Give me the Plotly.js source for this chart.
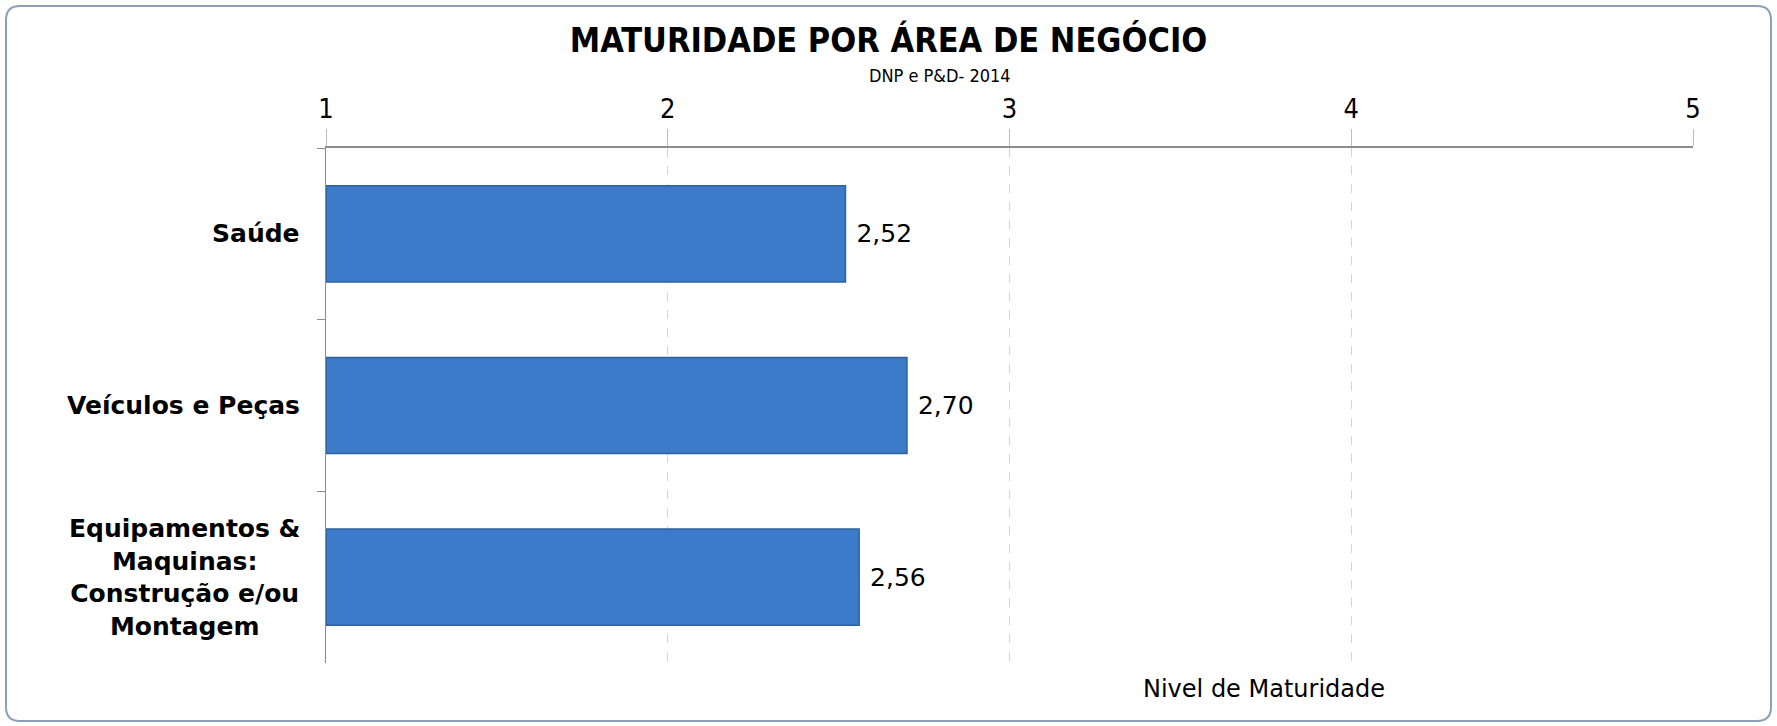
<!DOCTYPE html>
<html>
<head>
<meta charset="utf-8">
<script src="https://cdn.plot.ly/plotly-3.0.1.min.js"></script>
<style>html,body{margin:0;padding:0;background:#fff;}#chart{width:1777px;height:726px;}</style>
</head>
<body>
<div id="chart"></div>
<script>
const categories = ["Saúde", "Veículos e Peças", "Equipamentos &<br>Maquinas:<br>Construção e/ou<br>Montagem"];
const values = [2.52, 2.70, 2.56];
const valueLabels = ["2,52", "2,70", "2,56"];
const tickVals = [1, 2, 3, 4, 5];
const tickLabels = ["1", "2", "3", "4", "5"];
const titleText = "MATURIDADE POR ÁREA DE NEGÓCIO";
const subtitleText = "DNP e P&D- 2014";
const axisTitleText = "Nivel de Maturidade";

const FONTC = "DejaVu Sans Condensed, DejaVu Sans, sans-serif";
const FONT = "DejaVu Sans, sans-serif";

const trace = {
  type: "bar",
  orientation: "h",
  y: categories,
  x: values.map(v => v - 1),
  base: 1,
  text: valueLabels.map(t => " " + t),
  textposition: "outside",
  textfont: {family: FONT, size: 25, color: "#000"},
  marker: {color: "#3c7bca", line: {color: "#2f619c", width: 1.5}},
  cliponaxis: false,
  hoverinfo: "skip"
};

const catAnnotations = categories.map(c => ({
  xref: "paper", yref: "y", x: 0, y: c, xanchor: "right", yanchor: "middle",
  xshift: -24, text: "<b>" + c + "</b>", showarrow: false, align: "center",
  font: {family: FONT, size: 25, color: "#000"}
}));

const layout = {
  width: 1777, height: 726,
  margin: {l: 326, r: 84, t: 148, b: 63},
  paper_bgcolor: "#fff", plot_bgcolor: "#fff",
  showlegend: false,
  bargap: 0.44,
  title: {text: "<b>" + titleText + "</b>", x: 0.5, xanchor: "center", y: 0.945, yanchor: "middle",
          font: {family: FONTC, size: 34, color: "#000"}},
  xaxis: {
    side: "top", range: [1, 5], tickvals: tickVals, ticktext: tickLabels,
    showline: true, linecolor: "#8c8c8c", linewidth: 2,
    ticks: "outside", ticklen: 17, tickcolor: "#bcbcbc", tickwidth: 1,
    showgrid: true, gridcolor: "#d4d4d4", griddash: "dash", gridwidth: 1,
    zeroline: false, fixedrange: true,
    tickfont: {family: FONTC, size: 27, color: "#000"}
  },
  yaxis: {
    type: "category", autorange: "reversed",
    showticklabels: false,
    showline: true, linecolor: "#8c8c8c", linewidth: 1,
    ticks: "outside", tickson: "boundaries", ticklen: 8, tickcolor: "#8c8c8c",
    showgrid: false, zeroline: false, fixedrange: true
  },
  annotations: [
    {xref: "paper", yref: "paper", x: 0.449, y: 1, yshift: 73, xanchor: "center", yanchor: "middle",
     text: subtitleText, showarrow: false, font: {family: FONTC, size: 18, color: "#000"}},
    {xref: "paper", yref: "paper", x: 0.686, y: 0, yshift: -26, xanchor: "center", yanchor: "middle",
     text: axisTitleText, showarrow: false, font: {family: FONT, size: 24, color: "#000"}}
  ].concat(catAnnotations),
  shapes: [
    {type: "path", xref: "paper", yref: "paper", layer: "below",
     path: "", line: {color: "#8aa0b8", width: 2}}
  ]
};

// rounded border around the whole chart, in paper units
(function(){
  const pw = 1777 - 326 - 84, ph = 726 - 148 - 63;
  const px = v => (v - 326) / pw;
  const py = v => 1 - (v - 148) / ph;
  const x0 = 6, x1 = 1771, y0 = 6, y1 = 721, r = 14;
  const p = [
    "M", px(x0 + r), py(y0), "L", px(x1 - r), py(y0),
    "Q", px(x1), py(y0), px(x1), py(y0 + r),
    "L", px(x1), py(y1 - r),
    "Q", px(x1), py(y1), px(x1 - r), py(y1),
    "L", px(x0 + r), py(y1),
    "Q", px(x0), py(y1), px(x0), py(y1 - r),
    "L", px(x0), py(y0 + r),
    "Q", px(x0), py(y0), px(x0 + r), py(y0), "Z"
  ];
  layout.shapes[0].path = p.join(" ");
})();

Plotly.newPlot("chart", [trace], layout, {displayModeBar: false, staticPlot: true});
</script>
</body>
</html>
